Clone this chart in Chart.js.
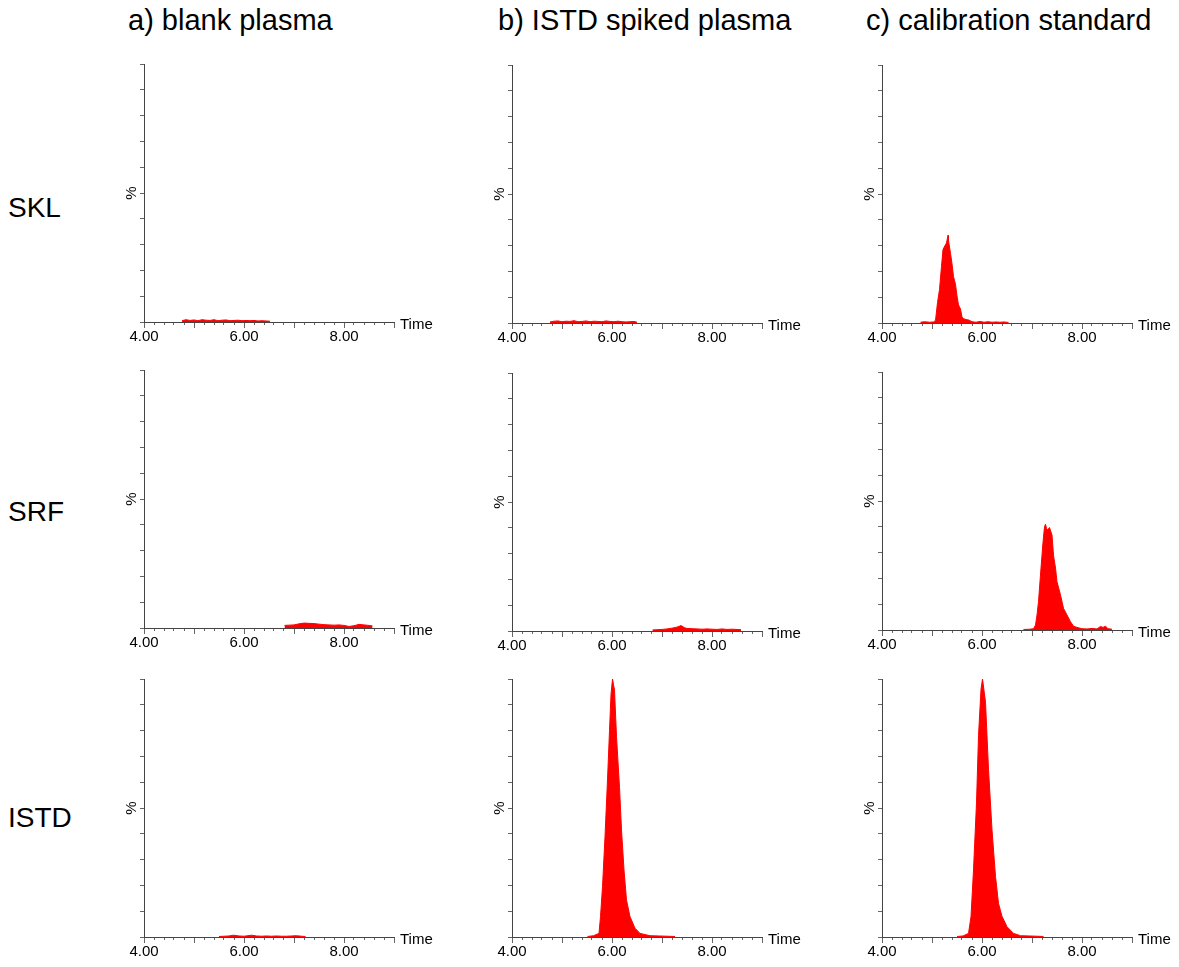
<!DOCTYPE html>
<html>
<head>
<meta charset="utf-8">
<script src="https://cdn.jsdelivr.net/npm/chart.js@4/dist/chart.umd.min.js"></script>
<style>
  html, body { margin: 0; padding: 0; background: #fff; }
  body { width: 1179px; height: 967px; overflow: hidden; position: relative;
         font-family: "Liberation Sans", Arial, Helvetica, sans-serif; color: #000; }
  .title { position: absolute; font-size: 29px; line-height: 1; white-space: nowrap; }
  .rowlab { position: absolute; left: 8px; font-size: 28px; line-height: 1; white-space: nowrap; }
  canvas { position: absolute; }
</style>
</head>
<body>
<script>
const columnTitles = ["a) blank plasma", "b) ISTD spiked plasma", "c) calibration standard"]
const rowLabels = ["SKL", "SRF", "ISTD"]
const xTickLabels = ["4.00", "6.00", "8.00"]

// retention time (min) and relative intensity (%)
const sklBlankT = [4.76, 4.84, 4.92, 5.00, 5.08, 5.16, 5.24, 5.32, 5.40, 5.48, 5.56, 5.64, 5.72, 5.80, 5.88, 5.96, 6.04, 6.12, 6.20, 6.28, 6.36, 6.44, 6.52]
const sklBlankY = [0.5, 0.9, 0.6, 0.8, 0.5, 0.9, 0.7, 0.6, 0.9, 0.5, 0.7, 0.8, 0.5, 0.6, 0.7, 0.5, 0.6, 0.5, 0.6, 0.4, 0.5, 0.4, 0.3]
const sklSpikedT = [4.76, 4.84, 4.92, 5.00, 5.08, 5.16, 5.24, 5.32, 5.40, 5.48, 5.56, 5.64, 5.72, 5.80, 5.88, 5.96, 6.04, 6.12, 6.20, 6.28, 6.36, 6.44, 6.50]
const sklSpikedY = [0.4, 0.7, 0.8, 0.5, 0.7, 0.6, 0.9, 0.5, 0.6, 0.8, 0.5, 0.7, 0.6, 0.5, 0.8, 0.6, 0.5, 0.7, 0.5, 0.4, 0.5, 0.6, 0.3]
const sklCalT = [4.77, 4.85, 4.95, 5.03, 5.07, 5.11, 5.15, 5.19, 5.22, 5.26, 5.29, 5.32, 5.33, 5.37, 5.40, 5.43, 5.47, 5.50, 5.53, 5.57, 5.60, 5.63, 5.68, 5.73, 5.80, 5.88, 5.96, 6.04, 6.12, 6.20, 6.28, 6.36, 6.44, 6.53]
const sklCalY = [0.3, 0.5, 0.3, 0.4, 1.0, 7.9, 13, 22, 28.5, 30, 31, 34, 32, 27, 23, 18, 15, 10.5, 7, 5.4, 2.3, 1.7, 1.3, 1.2, 0.5, 0.3, 0.6, 0.3, 0.5, 0.3, 0.4, 0.3, 0.4, 0.2]

const srfBlankT = [6.81, 6.90, 7.00, 7.10, 7.20, 7.30, 7.40, 7.50, 7.60, 7.70, 7.80, 7.90, 8.00, 8.10, 8.20, 8.30, 8.40, 8.50, 8.57]
const srfBlankY = [1.0, 1.1, 1.2, 1.6, 1.9, 1.8, 1.7, 1.5, 1.3, 1.2, 1.1, 1.2, 1.0, 0.6, 0.9, 1.4, 1.2, 1.0, 0.8]
const srfSpikedT = [6.81, 6.90, 7.00, 7.10, 7.20, 7.30, 7.38, 7.45, 7.50, 7.60, 7.70, 7.80, 7.90, 8.00, 8.10, 8.20, 8.30, 8.40, 8.50, 8.58]
const srfSpikedY = [0.4, 0.5, 0.6, 0.8, 1.1, 1.5, 2.1, 1.3, 1.0, 0.9, 0.8, 0.7, 0.8, 0.7, 0.6, 0.8, 0.6, 0.7, 0.6, 0.5]
const srfCalT = [6.83, 6.95, 7.03, 7.07, 7.10, 7.13, 7.18, 7.22, 7.25, 7.27, 7.29, 7.31, 7.35, 7.40, 7.43, 7.47, 7.50, 7.57, 7.63, 7.70, 7.77, 7.83, 7.90, 8.00, 8.10, 8.20, 8.30, 8.37, 8.42, 8.47, 8.52, 8.60]
const srfCalY = [0.2, 0.3, 0.5, 1.9, 5.8, 11, 24, 34, 40, 41, 39.4, 38.8, 39.7, 36.8, 29, 24, 18.7, 13.6, 8.4, 5.8, 3.2, 1.5, 1.0, 0.5, 0.4, 0.6, 0.4, 1.4, 1.0, 1.5, 0.5, 0.3]

const istdBlankT = [5.50, 5.60, 5.70, 5.79, 5.90, 6.00, 6.08, 6.15, 6.25, 6.35, 6.45, 6.55, 6.65, 6.75, 6.85, 6.95, 7.05, 7.15, 7.23]
const istdBlankY = [0.2, 0.3, 0.4, 0.7, 0.4, 0.3, 0.5, 0.7, 0.4, 0.3, 0.4, 0.3, 0.4, 0.3, 0.3, 0.4, 0.5, 0.3, 0.2]
const istdSpikedT = [5.51, 5.63, 5.74, 5.77, 5.81, 5.86, 5.91, 5.95, 5.98, 6.01, 6.05, 6.09, 6.15, 6.19, 6.24, 6.29, 6.36, 6.46, 6.56, 6.76, 6.95, 7.10, 7.26]
const istdSpikedY = [0.2, 0.5, 1.4, 7.9, 19.5, 38.9, 60.9, 80, 94, 100, 95.7, 77.6, 58, 41.5, 26, 14.3, 7.9, 3.4, 1.4, 0.5, 0.4, 0.3, 0.2]
const istdCalT = [5.50, 5.62, 5.73, 5.78, 5.83, 5.89, 5.93, 5.98, 6.01, 6.07, 6.13, 6.20, 6.27, 6.33, 6.40, 6.50, 6.63, 6.77, 6.95, 7.10, 7.23]
const istdCalY = [0.2, 0.4, 1.4, 7.9, 26, 52, 78, 96, 100, 91, 65, 41.5, 23.5, 13, 8, 4, 1.4, 0.5, 0.4, 0.3, 0.2]

const traces = [
  [[sklBlankT, sklBlankY], [sklSpikedT, sklSpikedY], [sklCalT, sklCalY]],
  [[srfBlankT, srfBlankY], [srfSpikedT, srfSpikedY], [srfCalT, srfCalY]],
  [[istdBlankT, istdBlankY], [istdSpikedT, istdSpikedY], [istdCalT, istdCalY]],
]

// page layout
const axisLeft = [144, 512, 882]
const baselines = [[322, 323, 323], [628, 631, 630], [937, 937, 937]]
const titleLeft = [128, 498, 866]
const rowLabelTop = [194, 498, 804]
const plotH = 258
const plotW = 250
const red = "#ff0000"
const font = '"Liberation Sans", Arial, Helvetica, sans-serif'

columnTitles.forEach((t, i) => {
  const d = document.createElement("div")
  d.className = "title"
  d.style.left = titleLeft[i] + "px"
  d.style.top = "6px"
  d.textContent = t
  document.body.appendChild(d)
})
rowLabels.forEach((t, i) => {
  const d = document.createElement("div")
  d.className = "rowlab"
  d.style.top = rowLabelTop[i] + "px"
  d.textContent = t
  document.body.appendChild(d)
})

// "Time", "%" and the longer whole-minute ticks
const panelDecor = {
  id: "panelDecor",
  afterDraw(chart) {
    const { ctx, chartArea: a, scales } = chart
    const x = scales.x
    ctx.save()
    ctx.strokeStyle = "#666"
    ctx.lineWidth = 1
    x.ticks.forEach((t) => {
      if (Math.abs(t.value - Math.round(t.value)) < 1e-6) {
        const px = Math.round(x.getPixelForValue(t.value)) + 0.5
        ctx.beginPath()
        ctx.moveTo(px, a.bottom + 3)
        ctx.lineTo(px, a.bottom + 6)
        ctx.stroke()
      }
    })
    ctx.fillStyle = "#000"
    ctx.font = "15px " + font
    ctx.textAlign = "left"
    ctx.textBaseline = "alphabetic"
    ctx.fillText("Time", a.right + 6, a.bottom + 7)
    ctx.translate(a.left - 12, (a.top + a.bottom) / 2)
    ctx.rotate(-Math.PI / 2)
    ctx.textAlign = "center"
    ctx.textBaseline = "middle"
    ctx.fillText("%", 0, 0)
    ctx.restore()
  },
}

traces.forEach((row, r) => {
  row.forEach(([ts, ys], c) => {
    const canvas = document.createElement("canvas")
    canvas.width = 340
    canvas.height = 12 + plotH + 28
    canvas.style.left = axisLeft[c] - 40 + "px"
    canvas.style.top = baselines[r][c] - plotH - 12 + "px"
    document.body.appendChild(canvas)

    new Chart(canvas.getContext("2d"), {
      type: "line",
      data: {
        datasets: [
          {
            data: ts.map((t, i) => ({ x: t, y: ys[i] })),
            borderColor: red,
            backgroundColor: red,
            borderWidth: 1,
            fill: "origin",
            pointRadius: 0,
            tension: 0,
          },
        ],
      },
      options: {
        responsive: false,
        animation: false,
        events: [],
        layout: { padding: { left: 10, top: 12, right: 340 - 40 - plotW, bottom: 0 } },
        plugins: { legend: { display: false }, tooltip: { enabled: false } },
        scales: {
          x: {
            type: "linear",
            min: 4,
            max: 9,
            afterFit: (s) => { s.height = 28 },
            border: { color: "#444", width: 1 },
            grid: { drawOnChartArea: false, tickLength: 3, color: "#666" },
            ticks: {
              stepSize: 0.2,
              autoSkip: false,
              maxRotation: 0,
              padding: 3,
              color: "#000",
              font: { size: 15, family: font },
              callback: (v) => (xTickLabels.includes(Number(v).toFixed(2)) ? Number(v).toFixed(2) : ""),
            },
          },
          y: {
            min: 0,
            max: 100,
            afterFit: (s) => { s.width = 30 },
            border: { color: "#444", width: 1 },
            grid: { drawOnChartArea: false, tickLength: 4, color: "#666" },
            ticks: { stepSize: 10, display: false },
          },
        },
      },
      plugins: [panelDecor],
    })
  })
})
</script>
</body>
</html>
